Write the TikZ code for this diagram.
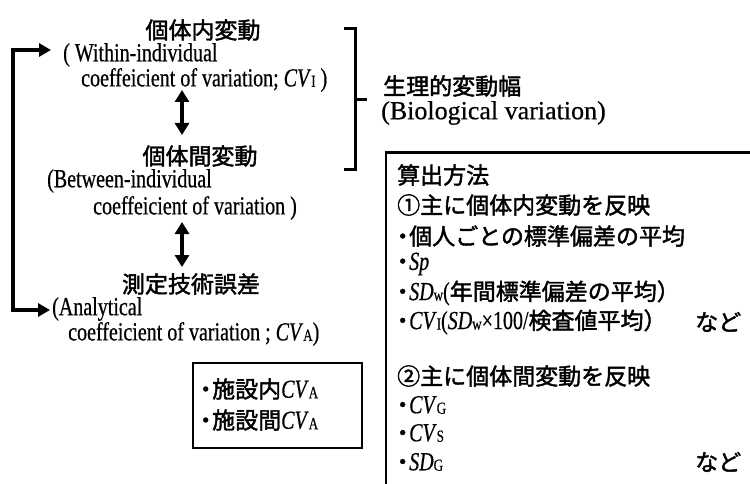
\documentclass[tikz,border=0pt]{standalone}
\usepackage{fontspec}
\setmainfont{Liberation Serif}
\newfontfamily\en[FakeStretch=0.77,FakeBold=0.5]{Liberation Serif}
\newfontfamily\enw[FakeBold=0.5]{Liberation Serif}
\newfontfamily\jp[FakeBold=1.8]{Noto Sans CJK JP}
\usetikzlibrary{arrows.meta}
\newcommand\J[1]{{\jp\fontsize{23}{24}\selectfont #1}}
\newcommand\dt{\hspace*{-6pt}\J{・}\hspace{-5pt}}
\newcommand\sbs[1]{\raisebox{-0.5pt}{\fontsize{17}{17}\selectfont #1}}
\newcommand\cvx{\textit{CV}}
\newcommand\sdx{\textit{SD}}
\tikzset{
  jt/.style={font=\jp\fontsize{23}{24}\selectfont, inner sep=0pt},
  et/.style={font=\en\fontsize{26}{28}\selectfont, inner sep=0pt},
  ew/.style={font=\enw\fontsize{26}{28}\selectfont, inner sep=0pt},
  thk/.style={line width=3.2pt},
  tri/.tip={Triangle[length=12pt,width=14pt]},
  dbl/.style={thk, tri-tri},
  loopar/.style={line width=3.4pt, {Triangle[length=12pt,width=13pt]}-{Triangle[length=12pt,width=13pt]}},
  bx/.style={line width=2.2pt}
}
\begin{document}
\begin{tikzpicture}[x=1pt,y=-1pt]
\useasboundingbox (0,0) rectangle (750,484);
% left column
\node[jt] (h1) at (203,30) {個体内変動};
\node[et,anchor=west] (w1) at (63,55) {( Within-individual};
\node[et,anchor=west] (w2) at (81,80) {coeffeicient of variation;\ \cvx\sbs{I} )};
\node[jt] (h2) at (200,156) {個体間変動};
\node[et,anchor=west] (b1) at (47,181) {(Between-individual};
\node[et,anchor=west] (b2) at (93,208) {coeffeicient of variation )};
\node[jt] (h3) at (191,284) {測定技術誤差};
\node[et,anchor=west] (a1) at (52,309) {(Analytical};
\node[et,anchor=west] (a2) at (68,334) {coeffeicient of variation ; \cvx\sbs{A})};
% double arrows
\coordinate (u1) at (182,90);
\coordinate (u2) at (182,135);
\coordinate (v1) at (182,222);
\coordinate (v2) at (182,267);
\draw[dbl] (u1) -- (u2);
\draw[dbl] (v1) -- (v2);
% loop
\coordinate (lx) at (13,200);
\draw[loopar] ([xshift=-12pt,yshift=5pt]w1.west) -| (lx) |- ([xshift=-2pt,yshift=-1pt]a1.west);
% bracket
\draw[line width=3pt] (344,29) -- (355,29) -- (355,170) -- (344,170);
\draw[line width=3pt] (355,100) -- (367,100);
\node[jt,anchor=west] (bio1) at (383,86) {生理的変動幅};
\node[ew,anchor=west] (bio2) at (381,113) {(Biological variation)};
% small box
\draw[bx] (193,363) rectangle (362,448);
\node[et,anchor=west] (s1) at (200,389) {\dt\J{施設内}\cvx\sbs{A}};
\node[et,anchor=west] (s2) at (200,420) {\dt\J{施設間}\cvx\sbs{A}};
% big box
\draw[bx] (386,484) -- (386,152.5) -- (750,152.5);
\node[jt,anchor=west] (m1) at (397,175) {算出方法};
\node[jt,anchor=west] (m2) at (397,205) {①主に個体内変動を反映};
\node[et,anchor=west] (m3) at (397,236) {\dt\J{個人ごとの標準偏差の平均}};
\node[et,anchor=west] (m4) at (397,264) {\dt\textit{Sp}};
\node[et,anchor=west] (m5) at (397,293) {\dt\sdx\sbs{w}(\J{年間標準偏差の平均）}};
\node[et,anchor=west] (m6) at (397,322) {\dt\cvx\sbs{I}(\sdx\sbs{w}×100/\J{検査値平均）}};
\node[jt,anchor=west] (n1) at (695,322) {など};
\node[jt,anchor=west] (m7) at (397,376) {②主に個体間変動を反映};
\node[et,anchor=west] (m8) at (397,405) {\dt\cvx\sbs{G}};
\node[et,anchor=west] (m9) at (397,433) {\dt\cvx\sbs{S}};
\node[et,anchor=west] (m10) at (397,462) {\dt\sdx\sbs{G}};
\node[jt,anchor=west] (n2) at (695,462) {など};
\end{tikzpicture}
\end{document}
